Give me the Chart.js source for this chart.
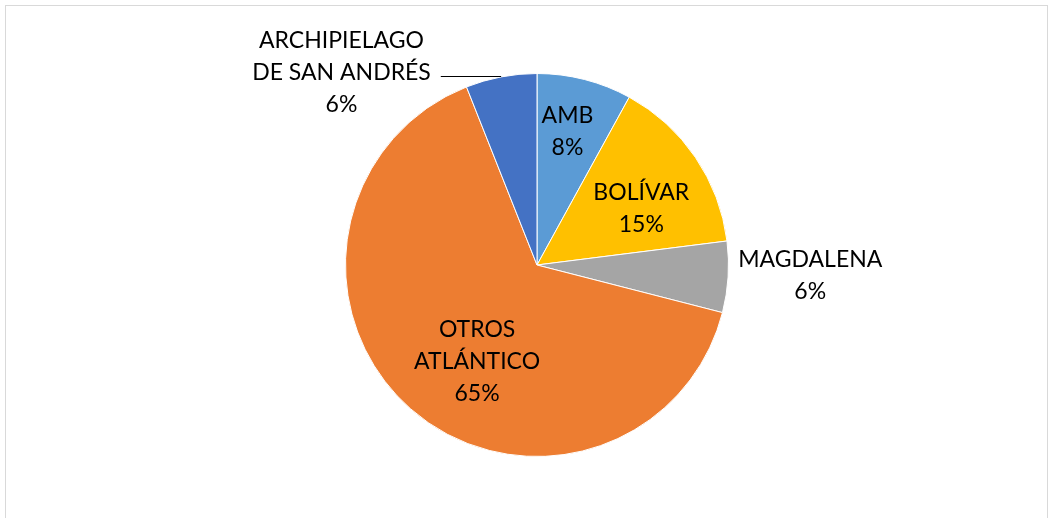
<!DOCTYPE html>
<html>
<head>
<meta charset="utf-8">
<script src="https://cdn.jsdelivr.net/npm/chart.js@4/dist/chart.umd.min.js"></script>
<style>
  html, body { margin: 0; padding: 0; background: #fff; }
  #wrap { position: relative; width: 1053px; height: 518px; overflow: hidden; }
</style>
</head>
<body>
<div id="wrap">
  <canvas id="pie" width="1053" height="518"></canvas>
</div>
<script>
// data
const regions = ['AMB', 'BOLÍVAR', 'MAGDALENA', 'OTROS ATLÁNTICO', 'ARCHIPIELAGO DE SAN ANDRÉS'];
const shares = [8, 15, 6, 65, 6];
const labelLines = [
  ['AMB'],
  ['BOLÍVAR'],
  ['MAGDALENA'],
  ['OTROS', 'ATLÁNTICO'],
  ['ARCHIPIELAGO', 'DE SAN ANDRÉS']
];
const sliceColors = ['#5B9BD5', '#FFC000', '#A5A5A5', '#ED7D31', '#4472C4'];

// label placement: fraction of radius + angle tweak (deg), leader for outside ones
const labelPlace = [
  { f: 0.713, da: -1.5 },
  { f: 0.619, da: 5.8 },
  { f: 1.428, da: -1.3 },
  { f: 0.592, da: -9.5 },
  { f: 1.434, da: -34.6, leader: true }
];

const FONT = '23px Lato';
const LINE_H = 32;

// grey frame round the chart like the spreadsheet chart area
const framePlugin = {
  id: 'frame',
  beforeDraw(chart) {
    const ctx = chart.ctx;
    ctx.save();
    ctx.fillStyle = '#fff';
    ctx.fillRect(0, 0, chart.width, chart.height);
    ctx.strokeStyle = '#D9D9D9';
    ctx.lineWidth = 1;
    ctx.strokeRect(5.5, 5.5, 1042, 530);
    ctx.restore();
  }
};

const labelPlugin = {
  id: 'sliceLabels',
  afterDatasetsDraw(chart) {
    const ctx = chart.ctx;
    const meta = chart.getDatasetMeta(0);
    const total = shares.reduce((a, b) => a + b, 0);
    ctx.save();
    ctx.font = FONT;
    ctx.fillStyle = '#000';
    ctx.textAlign = 'center';
    ctx.textBaseline = 'middle';
    meta.data.forEach((arc, i) => {
      const p = arc.getProps(['x', 'y', 'startAngle', 'endAngle', 'outerRadius'], true);
      const mid = (p.startAngle + p.endAngle) / 2;
      const a = mid + labelPlace[i].da * Math.PI / 180;
      const r = p.outerRadius * labelPlace[i].f;
      const lx = p.x + Math.cos(a) * r;
      const ly = p.y + Math.sin(a) * r;
      const lines = labelLines[i].concat([Math.round(shares[i] / total * 100) + '%']);
      const top = ly - (lines.length - 1) * LINE_H / 2;
      lines.forEach((t, k) => ctx.fillText(t, lx, top + k * LINE_H));

      if (labelPlace[i].leader) {
        // horizontal leader from the arc mid point to the label
        const ex = p.x + Math.cos(mid) * p.outerRadius;
        const ey = p.y + Math.sin(mid) * p.outerRadius;
        const w = Math.max(...lines.map(t => ctx.measureText(t).width));
        ctx.beginPath();
        ctx.strokeStyle = '#000';
        ctx.lineWidth = 1;
        ctx.moveTo(ex, Math.round(ey) - 0.5);
        ctx.lineTo(lx + w / 2 + 10, Math.round(ey) - 0.5);
        ctx.stroke();
      }
    });
    ctx.restore();
  }
};

new Chart(document.getElementById('pie'), {
  type: 'pie',
  data: {
    labels: regions,
    datasets: [{
      data: shares,
      backgroundColor: sliceColors,
      borderColor: '#fff',
      borderWidth: 1
    }]
  },
  options: {
    responsive: false,
    devicePixelRatio: 1,
    animation: false,
    layout: { padding: { left: 345, right: 324, top: 73, bottom: 61 } },
    plugins: {
      legend: { display: false },
      tooltip: { enabled: false }
    }
  },
  plugins: [framePlugin, labelPlugin]
});
</script>
</body>
</html>
